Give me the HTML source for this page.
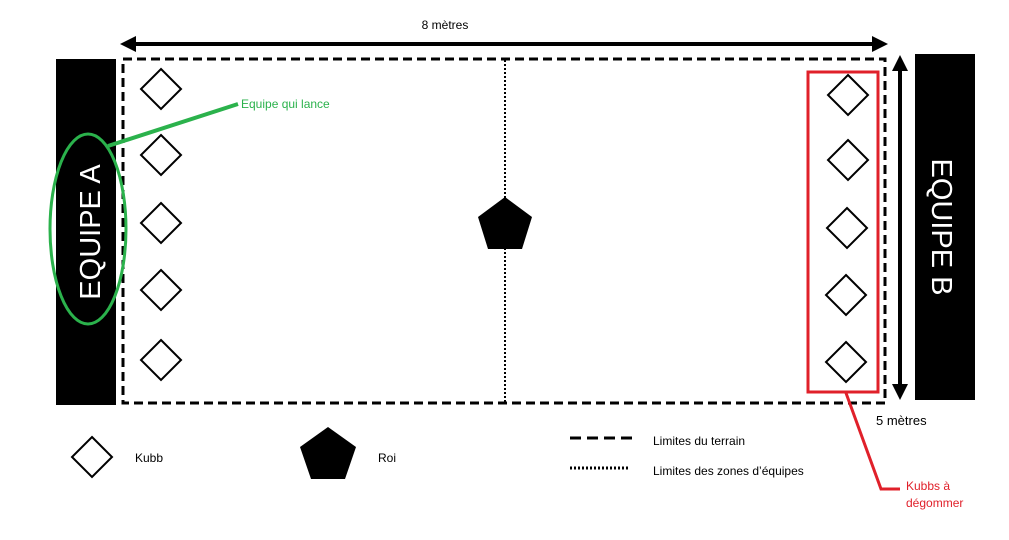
<!DOCTYPE html>
<html><head><style>body{margin:0;background:#fff}svg{display:block}text{font-family:"Liberation Sans",sans-serif}</style></head><body>
<svg width="1009" height="540" viewBox="0 0 1009 540">
<defs><marker id="a" markerWidth="4" markerHeight="4" refX="2" refY="2" orient="auto-start-reverse" markerUnits="strokeWidth"><path d="M0,0 L4,2 L0,4z" fill="#000"/></marker></defs>
<text x="445" y="29" font-size="12" text-anchor="middle">8 mètres</text>
<line x1="128" y1="44" x2="880" y2="44" stroke="#000" stroke-width="4" marker-start="url(#a)" marker-end="url(#a)"/>
<rect x="56" y="59" width="60" height="346" fill="#000"/>
<rect x="915" y="54" width="60" height="346" fill="#000"/>
<text transform="translate(100,232) rotate(-90)" font-size="29" fill="#fff" text-anchor="middle">EQUIPE A</text>
<text transform="translate(932,227) rotate(90)" font-size="29" fill="#fff" text-anchor="middle">EQUIPE B</text>
<rect x="123" y="59" width="762" height="344" fill="none" stroke="#000" stroke-width="3" stroke-dasharray="9,5"/>
<line x1="505" y1="60" x2="505" y2="402" stroke="#000" stroke-width="2" stroke-dasharray="2,2"/>
<line x1="900" y1="63" x2="900" y2="392" stroke="#000" stroke-width="4" marker-start="url(#a)" marker-end="url(#a)"/>
<text x="876" y="425" font-size="13">5 mètres</text>
<g fill="#fff" stroke="#000" stroke-width="2">
<path d="M161,69 l20,20 -20,20 -20,-20z"/><path d="M161,135 l20,20 -20,20 -20,-20z"/><path d="M161,203 l20,20 -20,20 -20,-20z"/><path d="M161,270 l20,20 -20,20 -20,-20z"/><path d="M161,340 l20,20 -20,20 -20,-20z"/>
<path d="M848,75 l20,20 -20,20 -20,-20z"/><path d="M848,140 l20,20 -20,20 -20,-20z"/><path d="M847,208 l20,20 -20,20 -20,-20z"/><path d="M846,275 l20,20 -20,20 -20,-20z"/><path d="M846,342 l20,20 -20,20 -20,-20z"/>
<path d="M92,437 l20,20 -20,20 -20,-20z"/>
</g>
<path d="M505,197 L532,217 L522,249 L488,249 L478,217Z" fill="#000"/>
<path d="M328,427 L356,447 L345,479 L311,479 L300,447Z" fill="#000"/>
<ellipse cx="88" cy="229" rx="38" ry="95" fill="none" stroke="#2bb24c" stroke-width="3"/>
<line x1="108" y1="146" x2="238" y2="104" stroke="#2bb24c" stroke-width="4"/>
<text x="241" y="108" font-size="12" fill="#2bb24c">Equipe qui lance</text>
<rect x="808" y="72" width="70" height="320" fill="none" stroke="#e0202a" stroke-width="3"/>
<polyline points="846,393 881,489 900,489" fill="none" stroke="#e0202a" stroke-width="3"/>
<text x="906" y="490" font-size="12" fill="#e0202a">Kubbs à</text>
<text x="906" y="507" font-size="12" fill="#e0202a">dégommer</text>
<text x="135" y="462" font-size="12">Kubb</text>
<text x="378" y="462" font-size="12">Roi</text>
<line x1="570" y1="438" x2="632" y2="438" stroke="#000" stroke-width="3" stroke-dasharray="11,6"/>
<line x1="570" y1="468" x2="630" y2="468" stroke="#000" stroke-width="3" stroke-dasharray="2,2"/>
<text x="653" y="445" font-size="12">Limites du terrain</text>
<text x="653" y="475" font-size="12">Limites des zones d’équipes</text>
</svg>
</body></html>
